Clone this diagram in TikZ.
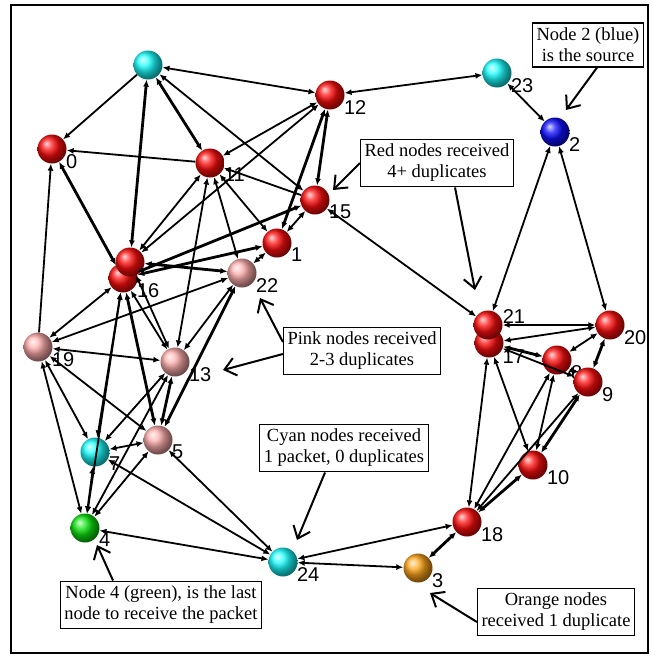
\documentclass[tikz,border=0pt]{standalone}
\usepackage{fontspec}
\setmainfont{Liberation Serif}
\setsansfont{Liberation Sans}
\usepackage{tikz}
\usetikzlibrary{arrows.meta,positioning}
\tikzset{
  vertex/.style={circle,minimum size=29pt,inner sep=0pt,draw=none},
  twoway/.style={<->,>={Latex[length=7pt,width=6pt]},line width=1.8pt},
  oneway/.style={->,>={Latex[length=7pt,width=6pt]},line width=1.8pt},
  heavy/.style={line width=2.8pt},
  callout/.style={draw,line width=1.2pt,fill=white,align=center,
    font=\fontsize{18.5}{21}\selectfont,inner xsep=4pt,inner ysep=5pt},
  pointer/.style={line width=2pt,-{Straight Barb[length=11pt,width=18pt]}}
}
\begin{document}
\begin{tikzpicture}[x=1pt,y=-1pt,
  every label/.style={font=\sffamily\fontsize{20}{20}\selectfont,inner sep=0pt}]
%
\useasboundingbox (0,0) rectangle (652,656);
\draw[line width=2pt] (11,5) rectangle (648,653);
%
\definecolor{cfv0}{rgb}{1.0,0.05,0.05}
\definecolor{cfv1}{rgb}{1.0,0.05,0.05}
\definecolor{cfv2}{rgb}{0.05,0.05,1.0}
\definecolor{cfv3}{rgb}{1.0,0.65,0.1}
\definecolor{cfv4}{rgb}{0.05,0.9,0.05}
\definecolor{cfv5}{rgb}{1.0,0.68,0.68}
\definecolor{cfv6}{rgb}{1.0,0.05,0.05}
\definecolor{cfv7}{rgb}{0.1,1.0,1.0}
\definecolor{cfv8}{rgb}{1.0,0.05,0.05}
\definecolor{cfv9}{rgb}{1.0,0.05,0.05}
\definecolor{cfv10}{rgb}{1.0,0.05,0.05}
\definecolor{cfv11}{rgb}{1.0,0.05,0.05}
\definecolor{cfv12}{rgb}{1.0,0.05,0.05}
\definecolor{cfv13}{rgb}{1.0,0.68,0.68}
\definecolor{cfv14}{rgb}{0.1,1.0,1.0}
\definecolor{cfv15}{rgb}{1.0,0.05,0.05}
\definecolor{cfv16}{rgb}{1.0,0.05,0.05}
\definecolor{cfv17}{rgb}{1.0,0.05,0.05}
\definecolor{cfv18}{rgb}{1.0,0.05,0.05}
\definecolor{cfv19}{rgb}{1.0,0.68,0.68}
\definecolor{cfv20}{rgb}{1.0,0.05,0.05}
\definecolor{cfv21}{rgb}{1.0,0.05,0.05}
\definecolor{cfv22}{rgb}{1.0,0.68,0.68}
\definecolor{cfv23}{rgb}{0.1,1.0,1.0}
\definecolor{cfv24}{rgb}{0.1,1.0,1.0}
%
\node[vertex,ball color=cfv0,label={-20:0}] (v0) at (52,149) {};
\node[vertex,ball color=cfv1,label={-20:1}] (v1) at (277,243) {};
\node[vertex,ball color=cfv2,label={-20:2}] (v2) at (555,132) {};
\node[vertex,ball color=cfv3,label={-20:3}] (v3) at (418,568) {};
\node[vertex,ball color=cfv4,label={-20:4}] (v4) at (85,528) {};
\node[vertex,ball color=cfv5,label={-20:5}] (v5) at (158,440) {};
\node[vertex,ball color=cfv16,label={-20:16}] (v16) at (123,278) {};
\node[vertex,ball color=cfv6] (v6) at (130,262) {};
\node[vertex,ball color=cfv7,label={-20:7}] (v7) at (95,452) {};
\node[vertex,ball color=cfv8,label={-20:8}] (v8) at (557,360) {};
\node[vertex,ball color=cfv9,label={-20:9}] (v9) at (588,382) {};
\node[vertex,ball color=cfv10,label={-20:10}] (v10) at (533,465) {};
\node[vertex,ball color=cfv11,label={-20:11}] (v11) at (210,163) {};
\node[vertex,ball color=cfv12,label={-20:12}] (v12) at (330,95) {};
\node[vertex,ball color=cfv13,label={-20:13}] (v13) at (175,362) {};
\node[vertex,ball color=cfv14] (v14) at (148,65) {};
\node[vertex,ball color=cfv15,label={-20:15}] (v15) at (315,200) {};
\node[vertex,ball color=cfv17,label={-25:17}] (v17) at (489,343) {};
\node[vertex,ball color=cfv18,label={-20:18}] (v18) at (467,522) {};
\node[vertex,ball color=cfv19,label={-20:19}] (v19) at (38,347) {};
\node[vertex,ball color=cfv20,label={-20:20}] (v20) at (610,325) {};
\node[vertex,ball color=cfv21,label={5:21}] (v21) at (488,325) {};
\node[vertex,ball color=cfv22,label={-20:22}] (v22) at (242,273) {};
\node[vertex,ball color=cfv23,label={-20:23}] (v23) at (497,73) {};
\node[vertex,ball color=cfv24,label={-20:24}] (v24) at (283,562) {};
%
\draw[twoway] (v14) -- (v12);
\draw[oneway] (v14) -- (v0);
\draw[twoway,heavy] (v14) -- (v6);
\draw[twoway,heavy] (v14) -- (v11);
\draw[twoway] (v14) -- (v15);
\draw[oneway] (v11) -- (v0);
\draw[twoway,heavy] (v0) -- (v16);
\draw[oneway] (v19) -- (v0);
\draw[twoway] (v11) -- (v6);
\draw[twoway] (v12) -- (v11);
\draw[twoway] (v11) -- (v1);
\draw[twoway] (v11) -- (v22);
\draw[twoway] (v11) -- (v13);
\draw[oneway] (v15) -- (v11);
\draw[twoway,heavy] (v12) -- (v15);
\draw[twoway,heavy] (v12) -- (v1);
\draw[twoway] (v12) -- (v6);
\draw[twoway] (v12) -- (v23);
\draw[twoway] (v23) -- (v2);
\draw[twoway] (v2) -- (v21);
\draw[twoway] (v2) -- (v20);
\draw[twoway] (v15) -- (v21);
\draw[twoway,heavy] (v15) -- (v16);
\draw[twoway] (v15) -- (v1);
\draw[twoway,heavy] (v1) -- (v16);
\draw[twoway] (v1) -- (v22);
\draw[twoway,heavy] (v6) -- (v22);
\draw[twoway] (v16) -- (v19);
\draw[twoway] (v6) -- (v13);
\draw[twoway] (v16) -- (v13);
\draw[twoway,heavy] (v16) -- (v5);
\draw[twoway] (v16) -- (v7);
\draw[twoway] (v16) -- (v4);
\draw[twoway] (v19) -- (v22);
\draw[twoway] (v22) -- (v13);
\draw[twoway,heavy] (v22) -- (v5);
\draw[twoway] (v19) -- (v13);
\draw[twoway] (v19) -- (v7);
\draw[twoway] (v19) -- (v4);
\draw[twoway] (v19) -- (v5);
\draw[twoway] (v13) -- (v7);
\draw[twoway,heavy] (v13) -- (v5);
\draw[twoway] (v13) -- (v4);
\draw[twoway] (v5) -- (v7);
\draw[twoway] (v5) -- (v4);
\draw[twoway] (v5) -- (v24);
\draw[twoway] (v7) -- (v4);
\draw[twoway] (v7) -- (v24);
\draw[twoway] (v4) -- (v24);
\draw[twoway] (v24) -- (v18);
\draw[twoway] (v24) -- (v3);
\draw[twoway,heavy] (v18) -- (v3);
\draw[twoway,heavy] (v18) -- (v10);
\draw[twoway] (v18) -- (v8);
\draw[twoway] (v18) -- (v17);
\draw[twoway] (v18) -- (v9);
\draw[twoway] (v17) -- (v10);
\draw[twoway] (v10) -- (v8);
\draw[twoway,heavy] (v10) -- (v9);
\draw[twoway] (v21) -- (v20);
\draw[twoway,heavy] (v17) -- (v8);
\draw[twoway] (v17) -- (v20);
\draw[twoway] (v8) -- (v20);
\draw[twoway,heavy] (v9) -- (v20);
\draw[twoway] (v8) -- (v9);
\draw[twoway] (v17) -- (v9);
%
\node[callout] (nsrc) at (588,45) {Node 2 (blue)\\is the source};
\node[callout] (nred) at (437,163) {Red nodes received\\4+ duplicates};
\node[callout] (npink) at (362,351) {Pink nodes received\\2-3 duplicates};
\node[callout] (ncyan) at (344,448) {Cyan nodes received\\1 packet, 0 duplicates};
\node[callout] (ngreen) at (161,605) {Node 4 (green), is the last\\node to receive the packet};
\node[callout] (norange) at (556,612) {Orange nodes\\received 1 duplicate};
%
\coordinate (t2) at (566,110);
\coordinate (t15) at (333,190);
\coordinate (t21) at (475,290);
\coordinate (t22) at (260,298);
\coordinate (t13) at (223,370);
\coordinate (t24) at (297,540);
\coordinate (t4) at (97,545);
\coordinate (t3) at (430,593);
%
\draw[pointer] ([xshift=9pt]nsrc.south) -- (t2);
\draw[pointer] (nred.west) -- (t15);
\draw[pointer] ([xshift=18pt]nred.south) -- (t21);
\draw[pointer] ([yshift=9pt]npink.west) -- (t22);
\draw[pointer] ([yshift=-3pt]npink.west) -- (t13);
\draw[pointer] ([xshift=-19pt]ncyan.south) -- (t24);
\draw[pointer] ([xshift=-48pt]ngreen.north) -- (t4);
\draw[pointer] ([yshift=-10pt]norange.west) -- (t3);
%
\end{tikzpicture}
\end{document}
